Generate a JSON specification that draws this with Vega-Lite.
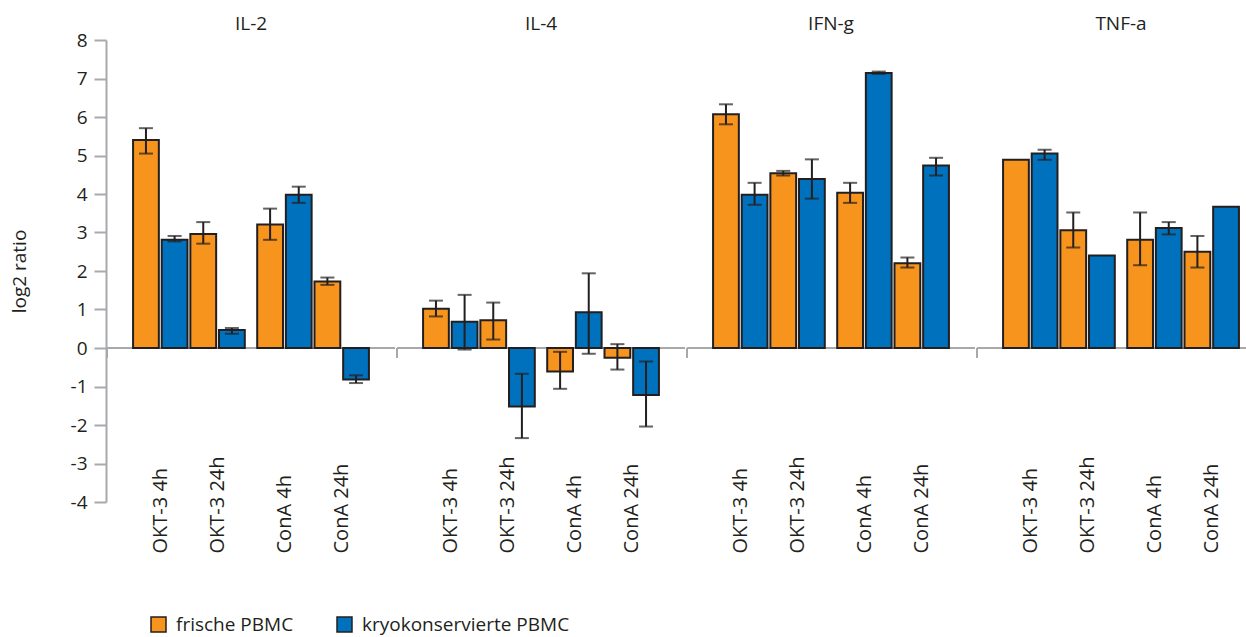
{
  "$schema": "https://vega.github.io/schema/vega-lite/v6.json",
  "background": "white",
  "padding": {"left": 10, "top": 15, "right": -12, "bottom": 0},
  "config": {
    "font": "Open Sans",
    "view": {"stroke": null},
    "axisY": {
      "values": [-4, -3, -2, -1, 0, 1, 2, 3, 4, 5, 6, 7, 8],
      "labelExpr": "'' + datum.value",
      "grid": false,
      "domainColor": "#A7A9AC",
      "domainWidth": 2,
      "tickColor": "#A7A9AC",
      "tickWidth": 2,
      "tickSize": 12,
      "labelPadding": 7,
      "labelFontSize": 19,
      "labelColor": "#231F20",
      "labelFont": "Open Sans",
      "titleFont": "Open Sans",
      "titleFontSize": 19,
      "titleFontWeight": "normal",
      "titleColor": "#231F20",
      "titlePadding": 41
    }
  },
  "data": {
    "values": [
      {"cytokine": "IL-2", "block": "OKT-3", "slot": "4h-f", "series": "frische PBMC", "value": 5.40, "lo": 5.05, "hi": 5.71},
      {"cytokine": "IL-2", "block": "OKT-3", "slot": "4h-k", "series": "kryokonservierte PBMC", "value": 2.81, "lo": 2.77, "hi": 2.91},
      {"cytokine": "IL-2", "block": "OKT-3", "slot": "24h-f", "series": "frische PBMC", "value": 2.96, "lo": 2.71, "hi": 3.27},
      {"cytokine": "IL-2", "block": "OKT-3", "slot": "24h-k", "series": "kryokonservierte PBMC", "value": 0.47, "lo": 0.37, "hi": 0.52},
      {"cytokine": "IL-2", "block": "ConA", "slot": "4h-f", "series": "frische PBMC", "value": 3.21, "lo": 2.81, "hi": 3.62},
      {"cytokine": "IL-2", "block": "ConA", "slot": "4h-k", "series": "kryokonservierte PBMC", "value": 3.98, "lo": 3.77, "hi": 4.19},
      {"cytokine": "IL-2", "block": "ConA", "slot": "24h-f", "series": "frische PBMC", "value": 1.73, "lo": 1.64, "hi": 1.83},
      {"cytokine": "IL-2", "block": "ConA", "slot": "24h-k", "series": "kryokonservierte PBMC", "value": -0.82, "lo": -0.91, "hi": -0.71},

      {"cytokine": "IL-4", "block": "OKT-3", "slot": "4h-f", "series": "frische PBMC", "value": 1.02, "lo": 0.82, "hi": 1.23},
      {"cytokine": "IL-4", "block": "OKT-3", "slot": "4h-k", "series": "kryokonservierte PBMC", "value": 0.68, "lo": -0.04, "hi": 1.38},
      {"cytokine": "IL-4", "block": "OKT-3", "slot": "24h-f", "series": "frische PBMC", "value": 0.72, "lo": 0.22, "hi": 1.18},
      {"cytokine": "IL-4", "block": "OKT-3", "slot": "24h-k", "series": "kryokonservierte PBMC", "value": -1.52, "lo": -2.34, "hi": -0.67},
      {"cytokine": "IL-4", "block": "ConA", "slot": "4h-f", "series": "frische PBMC", "value": -0.61, "lo": -1.06, "hi": -0.10},
      {"cytokine": "IL-4", "block": "ConA", "slot": "4h-k", "series": "kryokonservierte PBMC", "value": 0.93, "lo": -0.15, "hi": 1.94},
      {"cytokine": "IL-4", "block": "ConA", "slot": "24h-f", "series": "frische PBMC", "value": -0.25, "lo": -0.56, "hi": 0.10},
      {"cytokine": "IL-4", "block": "ConA", "slot": "24h-k", "series": "kryokonservierte PBMC", "value": -1.22, "lo": -2.04, "hi": -0.35},

      {"cytokine": "IFN-g", "block": "OKT-3", "slot": "4h-f", "series": "frische PBMC", "value": 6.07, "lo": 5.81, "hi": 6.33},
      {"cytokine": "IFN-g", "block": "OKT-3", "slot": "4h-k", "series": "kryokonservierte PBMC", "value": 3.98, "lo": 3.72, "hi": 4.29},
      {"cytokine": "IFN-g", "block": "OKT-3", "slot": "24h-f", "series": "frische PBMC", "value": 4.54, "lo": 4.48, "hi": 4.60},
      {"cytokine": "IFN-g", "block": "OKT-3", "slot": "24h-k", "series": "kryokonservierte PBMC", "value": 4.39, "lo": 3.88, "hi": 4.90},
      {"cytokine": "IFN-g", "block": "ConA", "slot": "4h-f", "series": "frische PBMC", "value": 4.03, "lo": 3.77, "hi": 4.29},
      {"cytokine": "IFN-g", "block": "ConA", "slot": "4h-k", "series": "kryokonservierte PBMC", "value": 7.14, "lo": 7.12, "hi": 7.18},
      {"cytokine": "IFN-g", "block": "ConA", "slot": "24h-f", "series": "frische PBMC", "value": 2.20, "lo": 2.09, "hi": 2.35},
      {"cytokine": "IFN-g", "block": "ConA", "slot": "24h-k", "series": "kryokonservierte PBMC", "value": 4.74, "lo": 4.48, "hi": 4.94},

      {"cytokine": "TNF-a", "block": "OKT-3", "slot": "4h-f", "series": "frische PBMC", "value": 4.89, "lo": null, "hi": null},
      {"cytokine": "TNF-a", "block": "OKT-3", "slot": "4h-k", "series": "kryokonservierte PBMC", "value": 5.05, "lo": 4.89, "hi": 5.15},
      {"cytokine": "TNF-a", "block": "OKT-3", "slot": "24h-f", "series": "frische PBMC", "value": 3.06, "lo": 2.61, "hi": 3.52},
      {"cytokine": "TNF-a", "block": "OKT-3", "slot": "24h-k", "series": "kryokonservierte PBMC", "value": 2.40, "lo": null, "hi": null},
      {"cytokine": "TNF-a", "block": "ConA", "slot": "4h-f", "series": "frische PBMC", "value": 2.81, "lo": 2.15, "hi": 3.52},
      {"cytokine": "TNF-a", "block": "ConA", "slot": "4h-k", "series": "kryokonservierte PBMC", "value": 3.12, "lo": 2.95, "hi": 3.27},
      {"cytokine": "TNF-a", "block": "ConA", "slot": "24h-f", "series": "frische PBMC", "value": 2.50, "lo": 2.09, "hi": 2.91},
      {"cytokine": "TNF-a", "block": "ConA", "slot": "24h-k", "series": "kryokonservierte PBMC", "value": 3.67, "lo": null, "hi": null}
    ]
  },
  "spacing": 0,
  "facet": {
    "column": {
      "field": "cytokine",
      "type": "nominal",
      "sort": ["IL-2", "IL-4", "IFN-g", "TNF-a"],
      "header": {
        "title": null,
        "labelFontSize": 19,
        "labelColor": "#231F20",
        "labelFont": "Open Sans",
        "labelPadding": 6
      }
    }
  },
  "spec": {
    "width": 288,
    "height": 462,
    "encoding": {
      "x": {
        "field": "block",
        "type": "nominal",
        "scale": {"domain": ["OKT-3", "ConA"], "paddingInner": 0.1, "paddingOuter": 0.21},
        "axis": {
          "title": null,
          "domain": false,
          "ticks": false,
          "labelAngle": -90,
          "labelAlign": "left",
          "labelBaseline": "middle",
          "labelPadding": 51,
          "labelOffset": -28,
          "labelFontSize": 20,
          "labelColor": "#231F20",
          "labelFont": "Open Sans",
          "labelLineHeight": 57,
          "labelOverlap": false,
          "labelBound": false,
          "labelExpr": "[datum.label + ' 4h', datum.label + ' 24h']"
        }
      }
    },
    "layer": [
      {
        "transform": [{"filter": "datum.block == 'OKT-3' && datum.slot == '4h-f'"}],
        "mark": {"type": "rule", "color": "#A7A9AC", "strokeWidth": 2},
        "encoding": {
          "x": null,
          "y": {"datum": 0, "type": "quantitative", "title": "log2 ratio", "scale": {"domain": [-4, 8], "nice": false}}
        }
      },
      {
        "transform": [{"filter": "datum.block == 'OKT-3' && datum.slot == '4h-f'"}],
        "mark": {"type": "rule", "color": "#A7A9AC", "strokeWidth": 2},
        "encoding": {
          "x": {"field": "block", "type": "nominal", "bandPosition": -0.2333},
          "y": {"datum": 0, "type": "quantitative", "title": "log2 ratio"},
          "y2": {"datum": -0.26}
        }
      },
      {
        "mark": {"type": "bar", "stroke": "#231F20", "strokeWidth": 2},
        "encoding": {
          "xOffset": {
            "field": "slot",
            "type": "nominal",
            "scale": {"domain": ["4h-f", "4h-k", "24h-f", "24h-k"], "paddingInner": 0.1, "paddingOuter": 0}
          },
          "y": {
            "field": "value",
            "type": "quantitative",
            "title": "log2 ratio",
            "scale": {"domain": [-4, 8], "nice": false}
          },
          "color": {
            "field": "series",
            "type": "nominal",
            "scale": {"domain": ["frische PBMC", "kryokonservierte PBMC"], "range": ["#F7941D", "#0071BC"]},
            "legend": {
              "title": null,
              "orient": "none",
              "legendX": 42,
              "legendY": 575,
              "direction": "horizontal",
              "symbolType": "square",
              "symbolSize": 225,
              "symbolStrokeColor": "#231F20",
              "symbolStrokeWidth": 1.5,
              "labelFontSize": 19,
              "labelColor": "#231F20",
              "labelFont": "Open Sans",
              "labelOffset": 8,
              "labelLimit": 400,
              "columnPadding": 40
            }
          }
        }
      },
      {
        "transform": [{"filter": "datum.lo != null"}],
        "mark": {"type": "rule", "color": "#231F20", "strokeWidth": 2},
        "encoding": {
          "xOffset": {"field": "slot", "type": "nominal"},
          "y": {"field": "lo", "type": "quantitative", "title": "log2 ratio"},
          "y2": {"field": "hi"}
        }
      },
      {
        "transform": [{"filter": "datum.lo != null"}],
        "mark": {"type": "tick", "color": "#231F20", "thickness": 2, "size": 14},
        "encoding": {
          "xOffset": {"field": "slot", "type": "nominal"},
          "y": {"field": "lo", "type": "quantitative", "title": "log2 ratio"}
        }
      },
      {
        "transform": [{"filter": "datum.hi != null"}],
        "mark": {"type": "tick", "color": "#231F20", "thickness": 2, "size": 14},
        "encoding": {
          "xOffset": {"field": "slot", "type": "nominal"},
          "y": {"field": "hi", "type": "quantitative", "title": "log2 ratio"}
        }
      }
    ]
  }
}
